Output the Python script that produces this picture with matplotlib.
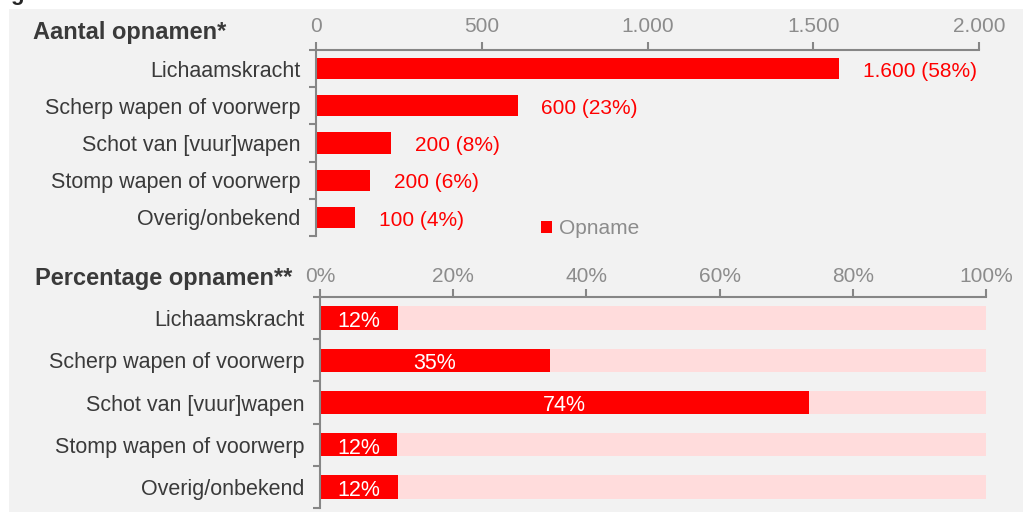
import matplotlib
matplotlib.use("Agg")
import matplotlib.pyplot as plt
from matplotlib.patches import Rectangle, Patch
import numpy as np

# categories (top to bottom)
categories = ["Lichaamskracht", "Scherp wapen of voorwerp", "Schot van [vuur]wapen",
              "Stomp wapen of voorwerp", "Overig/onbekend"]

# top panel: number of admissions
counts = [1578, 609, 226, 163, 118]
count_labels = ["1.600 (58%)", "600 (23%)", "200 (8%)", "200 (6%)", "100 (4%)"]
count_ticks = [0, 500, 1000, 1500, 2000]
count_ticklabels = ["0", "500", "1.000", "1.500", "2.000"]

# bottom panel: admission percentage
pcts = [11.7, 34.5, 73.4, 11.6, 11.7]
pct_labels = ["12%", "35%", "74%", "12%", "12%"]
pct_ticks = [0, 20, 40, 60, 80, 100]
pct_ticklabels = ["0%", "20%", "40%", "60%", "80%", "100%"]

RED = "#ff0000"
PINK = "#ffdcdc"
GRAY = "#868686"
TICKGRAY = "#8c8c8c"
DARK = "#3a3a3a"

plt.rcParams["font.family"] = ["Liberation Sans", "DejaVu Sans"]

W, H = 1023, 512
fig = plt.figure(figsize=(W / 100, H / 100), dpi=100)
fig.patch.set_facecolor("white")
fig.patches.append(Rectangle((9 / W, 0), 1, 1 - 9 / H, transform=fig.transFigure,
                             facecolor="#f2f2f2", edgecolor="none", zorder=-10))

# cut-off heading letter at the very top (the source image is cropped here)
fig.text(10 / W, 1.0, "g", fontsize=16, fontweight="bold", color="#262626",
         va="baseline", ha="left")


def style_axis(ax, ticks, ticklabels, xmax, pad):
    ax.set_facecolor("none")
    ax.set_xlim(0, xmax)
    ax.set_ylim(4.5, -0.5)
    ax.xaxis.tick_top()
    ax.set_xticks(ticks)
    ax.set_xticklabels(ticklabels)
    ax.tick_params(axis="x", which="major", direction="out", length=6, width=1.5,
                   color=GRAY, labelsize=15, labelcolor=TICKGRAY, pad=pad)
    ax.set_yticks(range(len(categories)))
    ax.set_yticklabels(categories)
    ax.set_yticks(np.arange(-0.5, len(categories), 1), minor=True)
    ax.tick_params(axis="y", which="major", length=0, labelsize=15.5,
                   labelcolor=DARK, pad=11)
    ax.tick_params(axis="y", which="minor", length=5, width=1.5, color=GRAY)
    for side in ("right", "bottom"):
        ax.spines[side].set_visible(False)
    for side in ("top", "left"):
        ax.spines[side].set_color(GRAY)
        ax.spines[side].set_linewidth(1.5)


# ---- top panel ----
ax1 = fig.add_axes([316 / W, 1 - 236 / H, (979 - 316) / W, (236 - 50) / H])
style_axis(ax1, count_ticks, count_ticklabels, 2000, pad=4)
y = np.arange(len(categories))
ax1.barh(y, counts, height=0.57, color=RED)
for yi, v, lab in zip(y, counts, count_labels):
    ax1.annotate(lab, (v, yi), xytext=(17, -2), textcoords="offset points",
                 va="center", ha="left", fontsize=15, color=RED)

fig.text(33 / W, 1 - 33 / H, "Aantal opnamen*", fontsize=17, fontweight="bold",
         color=DARK, va="center", ha="left")

fig.legend(handles=[Patch(facecolor=RED, edgecolor="none")], labels=["Opname"],
           loc="center left", bbox_to_anchor=(541 / W, 1 - 229 / H),
           frameon=False, fontsize=15, labelcolor=TICKGRAY, handlelength=0.55,
           handleheight=0.55, handletextpad=0.3, borderpad=0, borderaxespad=0)

# ---- bottom panel ----
ax2 = fig.add_axes([320 / W, 1 - 508 / H, (986 - 320) / W, (508 - 297) / H])
style_axis(ax2, pct_ticks, pct_ticklabels, 100, pad=2)
ax2.barh(y, [100] * len(categories), height=0.55, color=PINK)
ax2.barh(y, pcts, height=0.55, color=RED)
for yi, v, lab in zip(y, pcts, pct_labels):
    ax2.annotate(lab, (v / 2, yi), xytext=(0, -2.5), textcoords="offset points",
                 va="center", ha="center", fontsize=15.5, color="white")

fig.text(35 / W, 1 - 278 / H, "Percentage opnamen**", fontsize=17,
         fontweight="bold", color=DARK, va="center", ha="left")

fig.savefig("out.png", dpi=100)
